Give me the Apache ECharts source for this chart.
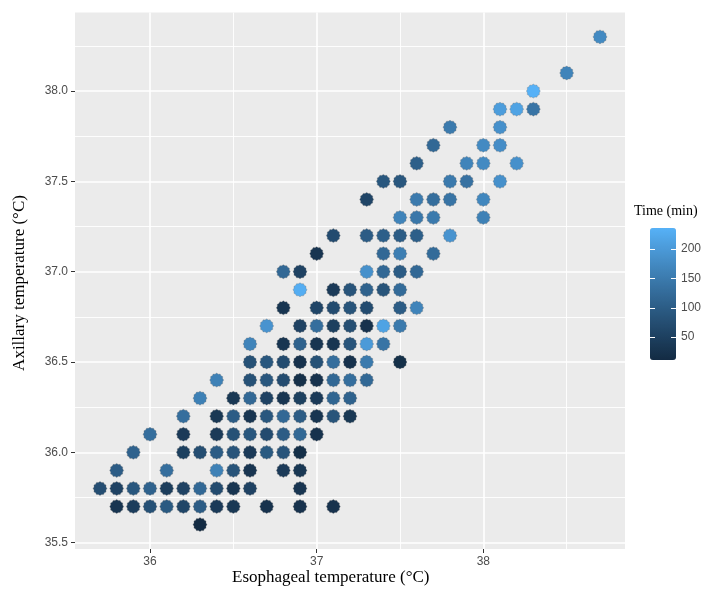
<!DOCTYPE html>
<html>
<head>
<meta charset="utf-8">
<script src="https://cdn.jsdelivr.net/npm/echarts@6/dist/echarts.min.js"></script>
<style>
  html, body { margin: 0; padding: 0; background: #ffffff; }
  #chart { width: 712px; height: 599px; }
</style>
</head>
<body>
<div id="chart"></div>
<script>
// Paired measurements: esophageal vs axillary temperature (°C), coloured by elapsed time (min)
const esophageal = [
  38.7,
  38.5,
  38.3,
  38.1, 38.2, 38.3,
  37.8, 38.1,
  37.7, 38.0, 38.1,
  37.6, 37.9, 38.0, 38.2,
  37.4, 37.5, 37.8, 37.9, 38.1,
  37.3, 37.6, 37.7, 37.8, 38.0,
  37.5, 37.6, 37.7, 38.0,
  37.1, 37.3, 37.4, 37.5, 37.6, 37.8,
  37.0, 37.4, 37.5, 37.7,
  36.8, 36.9, 37.3, 37.4, 37.5, 37.6,
  36.9, 37.1, 37.2, 37.3, 37.4, 37.5,
  36.8, 37.0, 37.1, 37.2, 37.3, 37.5, 37.6,
  36.7, 36.9, 37.0, 37.1, 37.2, 37.3, 37.4, 37.5,
  36.6, 36.8, 36.9, 37.0, 37.1, 37.2, 37.3, 37.4,
  36.6, 36.7, 36.8, 36.9, 37.0, 37.1, 37.2, 37.3, 37.5,
  36.4, 36.6, 36.7, 36.8, 36.9, 37.0, 37.1, 37.2, 37.3,
  36.3, 36.5, 36.6, 36.7, 36.8, 36.9, 37.0, 37.1, 37.2,
  36.2, 36.4, 36.5, 36.6, 36.7, 36.8, 36.9, 37.0, 37.1, 37.2,
  36.0, 36.2, 36.4, 36.5, 36.6, 36.7, 36.8, 36.9, 37.0,
  35.9, 36.2, 36.3, 36.4, 36.5, 36.6, 36.7, 36.8, 36.9,
  35.8, 36.1, 36.4, 36.5, 36.6, 36.8, 36.9,
  35.7, 35.8, 35.9, 36.0, 36.1, 36.2, 36.3, 36.4, 36.5, 36.6, 36.9,
  35.8, 35.9, 36.0, 36.1, 36.2, 36.3, 36.4, 36.5, 36.7, 36.9, 37.1,
  36.3
];
const axillary = [
  38.3,
  38.1,
  38.0,
  37.9, 37.9, 37.9,
  37.8, 37.8,
  37.7, 37.7, 37.7,
  37.6, 37.6, 37.6, 37.6,
  37.5, 37.5, 37.5, 37.5, 37.5,
  37.4, 37.4, 37.4, 37.4, 37.4,
  37.3, 37.3, 37.3, 37.3,
  37.2, 37.2, 37.2, 37.2, 37.2, 37.2,
  37.1, 37.1, 37.1, 37.1,
  37.0, 37.0, 37.0, 37.0, 37.0, 37.0,
  36.9, 36.9, 36.9, 36.9, 36.9, 36.9,
  36.8, 36.8, 36.8, 36.8, 36.8, 36.8, 36.8,
  36.7, 36.7, 36.7, 36.7, 36.7, 36.7, 36.7, 36.7,
  36.6, 36.6, 36.6, 36.6, 36.6, 36.6, 36.6, 36.6,
  36.5, 36.5, 36.5, 36.5, 36.5, 36.5, 36.5, 36.5, 36.5,
  36.4, 36.4, 36.4, 36.4, 36.4, 36.4, 36.4, 36.4, 36.4,
  36.3, 36.3, 36.3, 36.3, 36.3, 36.3, 36.3, 36.3, 36.3,
  36.2, 36.2, 36.2, 36.2, 36.2, 36.2, 36.2, 36.2, 36.2, 36.2,
  36.1, 36.1, 36.1, 36.1, 36.1, 36.1, 36.1, 36.1, 36.1,
  36.0, 36.0, 36.0, 36.0, 36.0, 36.0, 36.0, 36.0, 36.0,
  35.9, 35.9, 35.9, 35.9, 35.9, 35.9, 35.9,
  35.8, 35.8, 35.8, 35.8, 35.8, 35.8, 35.8, 35.8, 35.8, 35.8, 35.8,
  35.7, 35.7, 35.7, 35.7, 35.7, 35.7, 35.7, 35.7, 35.7, 35.7, 35.7,
  35.6
];
const timeMin = [
  175,
  165,
  236,
  205, 215, 140,
  150, 185,
  120, 175, 180,
  105, 165, 175, 185,
  90, 90, 150, 135, 185,
  60, 150, 130, 140, 170,
  165, 145, 150, 160,
  70, 100, 105, 100, 105, 190,
  30, 120, 155, 125,
  120, 55, 185, 120, 100, 120,
  230, 40, 85, 110, 85, 125,
  30, 60, 70, 85, 70, 100, 165,
  190, 55, 130, 50, 75, 25, 215, 150,
  165, 30, 110, 30, 30, 85, 200, 140,
  80, 90, 70, 25, 80, 130, 25, 150, 20,
  160, 80, 90, 70, 20, 25, 120, 130, 120,
  160, 35, 120, 55, 30, 50, 40, 115, 110,
  130, 35, 100, 30, 90, 120, 100, 30, 85, 35,
  130, 40, 40, 80, 90, 70, 100, 120, 25,
  110, 50, 75, 100, 85, 40, 95, 85, 20,
  100, 130, 160, 85, 30, 40, 35,
  75, 55, 90, 110, 45, 55, 120, 70, 30, 55, 30,
  30, 45, 80, 95, 60, 100, 40, 35, 25, 25, 25,
  11
];

// Axis breaks
const xMajorTicks = [36, 37, 38];
const xMinorTicks = [36.5, 37.5, 38.5];
const yMajorTicks = [35.5, 36.0, 36.5, 37.0, 37.5, 38.0];
const yMinorTicks = [35.75, 36.25, 36.75, 37.25, 37.75, 38.25];
const timeTicks = [50, 100, 150, 200];
const timeRange = [11, 236];

// Colour ramp interpolated in CIE Lab between the two end colours
function hexToRgb(h) {
  return [1, 3, 5].map(i => parseInt(h.slice(i, i + 2), 16) / 255);
}
function rgbToLab(c) {
  const lin = c.map(v => v <= 0.04045 ? v / 12.92 : Math.pow((v + 0.055) / 1.055, 2.4));
  const X = (0.4124 * lin[0] + 0.3576 * lin[1] + 0.1805 * lin[2]) / 0.95047;
  const Y = (0.2126 * lin[0] + 0.7152 * lin[1] + 0.0722 * lin[2]);
  const Z = (0.0193 * lin[0] + 0.1192 * lin[1] + 0.9505 * lin[2]) / 1.08883;
  const f = t => t > 0.008856 ? Math.cbrt(t) : 7.787 * t + 16 / 116;
  return [116 * f(Y) - 16, 500 * (f(X) - f(Y)), 200 * (f(Y) - f(Z))];
}
function labToHex(L) {
  const fy = (L[0] + 16) / 116, fx = fy + L[1] / 500, fz = fy - L[2] / 200;
  const inv = t => t * t * t > 0.008856 ? t * t * t : (t - 16 / 116) / 7.787;
  const X = inv(fx) * 0.95047, Y = inv(fy), Z = inv(fz) * 1.08883;
  let r = 3.2406 * X - 1.5372 * Y - 0.4986 * Z;
  let g = -0.9689 * X + 1.8758 * Y + 0.0415 * Z;
  let b = 0.0557 * X - 0.2040 * Y + 1.0570 * Z;
  return '#' + [r, g, b].map(v => {
    v = v <= 0.0031308 ? 12.92 * v : 1.055 * Math.pow(v, 1 / 2.4) - 0.055;
    v = Math.max(0, Math.min(1, v));
    return Math.round(v * 255).toString(16).padStart(2, '0');
  }).join('');
}
function labRamp(lo, hi, n) {
  const a = rgbToLab(hexToRgb(lo)), b = rgbToLab(hexToRgb(hi));
  const out = [];
  for (let i = 0; i < n; i++) {
    const t = i / (n - 1);
    out.push(labToHex(a.map((v, k) => v + (b[k] - v) * t)));
  }
  return out;
}
const rampColors = labRamp('#132B43', '#56B1F7', 11);

// Slightly toothed round marker
function toothedPath(teeth, inner) {
  const pts = [];
  for (let i = 0; i < teeth * 2; i++) {
    const r = i % 2 === 0 ? 1 : inner;
    const a = Math.PI * i / teeth;
    pts.push((50 + 50 * r * Math.cos(a)).toFixed(2) + ' ' + (50 + 50 * r * Math.sin(a)).toFixed(2));
  }
  return 'path://M' + pts.join(' L') + ' Z';
}
const markerSymbol = toothedPath(12, 0.88);

const points = esophageal.map((x, i) => [x, axillary[i], timeMin[i]]);

const axisText = { color: '#4D4D4D', fontSize: 12, fontFamily: 'Liberation Sans, Arial, sans-serif' };
const titleFont = 'Liberation Serif, Times New Roman, serif';

const chart = echarts.init(document.getElementById('chart'), null, { renderer: 'canvas' });
chart.setOption({
  animation: false,
  backgroundColor: '#ffffff',
  grid: [
    { left: 75, right: 87, top: 12.5, bottom: 50, show: true, backgroundColor: '#EBEBEB', borderWidth: 0 },
    { left: 650, top: 228, width: 26, height: 132, show: false }
  ],
  xAxis: [
    {
      type: 'value', gridIndex: 0, min: 35.55, max: 38.85, position: 'bottom',
      axisLine: { show: false },
      axisTick: { show: true, length: 4, lineStyle: { color: '#333333', width: 1 }, customValues: xMajorTicks },
      axisLabel: { ...axisText, margin: 7, customValues: xMajorTicks, formatter: v => String(Math.round(v)) },
      splitLine: { show: true, lineStyle: { color: '#ffffff', width: 1.6 } },
      z: 2
    },
    {
      type: 'value', gridIndex: 0, min: 35.55, max: 38.85, position: 'top',
      axisLine: { show: false },
      axisTick: { show: false, customValues: xMinorTicks },
      axisLabel: { show: false, customValues: xMinorTicks },
      splitLine: { show: true, lineStyle: { color: '#ffffff', width: 0.9 } },
      z: 1
    },
    { type: 'value', gridIndex: 1, min: 0, max: 1, show: false }
  ],
  yAxis: [
    {
      type: 'value', gridIndex: 0, min: 35.465, max: 38.435, position: 'left',
      axisLine: { show: false },
      axisTick: { show: true, length: 4, lineStyle: { color: '#333333', width: 1 }, customValues: yMajorTicks },
      axisLabel: { ...axisText, margin: 7, customValues: yMajorTicks, formatter: v => v.toFixed(1) },
      splitLine: { show: true, lineStyle: { color: '#ffffff', width: 1.6 } },
      z: 2
    },
    {
      type: 'value', gridIndex: 0, min: 35.465, max: 38.435, position: 'right',
      axisLine: { show: false },
      axisTick: { show: false, customValues: yMinorTicks },
      axisLabel: { show: false, customValues: yMinorTicks },
      splitLine: { show: true, lineStyle: { color: '#ffffff', width: 0.9 } },
      z: 1
    },
    {
      type: 'value', gridIndex: 1, min: timeRange[0], max: timeRange[1], position: 'left',
      axisLine: { show: false },
      axisTick: { show: true, inside: true, length: 5, lineStyle: { color: '#ffffff', width: 1 }, customValues: timeTicks },
      axisLabel: { show: false, customValues: timeTicks },
      splitLine: { show: false },
      z: 10
    },
    {
      type: 'value', gridIndex: 1, min: timeRange[0], max: timeRange[1], position: 'right',
      axisLine: { show: false },
      axisTick: { show: true, inside: true, length: 5, lineStyle: { color: '#ffffff', width: 1 }, customValues: timeTicks },
      axisLabel: { ...axisText, margin: 5, customValues: timeTicks },
      splitLine: { show: false },
      z: 10
    }
  ],
  visualMap: {
    type: 'continuous',
    min: timeRange[0], max: timeRange[1],
    dimension: 2, seriesIndex: 0,
    left: 650, top: 228, itemWidth: 26, itemHeight: 132,
    padding: 0, calculable: false, hoverLink: false, text: null,
    inRange: { color: rampColors }
  },
  series: [
    {
      type: 'scatter', xAxisIndex: 0, yAxisIndex: 0,
      data: points,
      symbol: markerSymbol, symbolSize: 14,
      itemStyle: { opacity: 1, borderColor: 'rgba(120,120,120,0.55)', borderWidth: 0.6 },
      z: 5
    }
  ],
  graphic: [
    {
      type: 'text', left: 232, top: 569,
      style: { text: 'Esophageal temperature (°C)', font: '17px ' + titleFont, fill: '#000000' }
    },
    {
      type: 'text', x: 11, y: 283, rotation: Math.PI / 2,
      style: { text: 'Axillary temperature (°C)', font: '17px ' + titleFont, fill: '#000000', align: 'center', verticalAlign: 'top' }
    },
    {
      type: 'text', left: 634, top: 204,
      style: { text: 'Time (min)', font: '14px ' + titleFont, fill: '#000000' }
    }
  ]
});
</script>
</body>
</html>
